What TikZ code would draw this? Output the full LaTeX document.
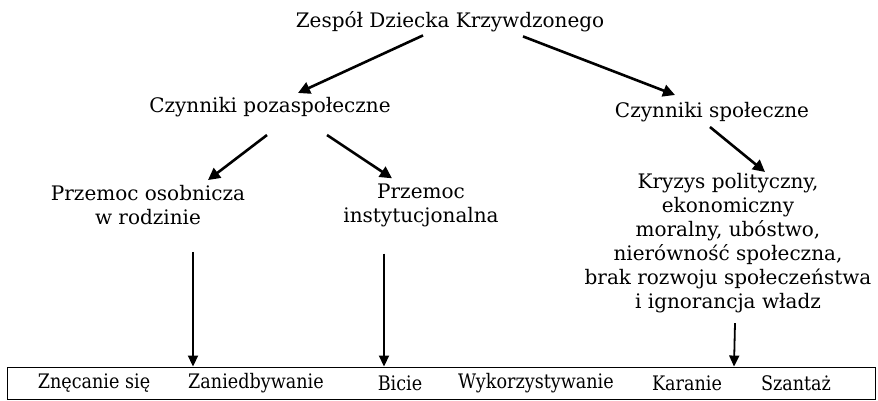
\documentclass[tikz,border=0pt]{standalone}
\usepackage{fontspec}
\setmainfont{DejaVu Serif}
\usetikzlibrary{positioning,arrows.meta}
\tikzset{
  lbl/.style={align=center, inner sep=1pt, font=\fontsize{20}{24}\selectfont, text=black},
  item/.style={inner sep=1pt, font=\fontsize{20}{24}\selectfont, text=black},
  flow/.style={-{Triangle[length=12pt, width=12pt]}, line width=2.6pt, draw=black},
  flowv/.style={-{Triangle[length=11pt, width=10pt]}, line width=1.8pt, draw=black},
}
\newcommand{\narrow}[1]{\scalebox{0.88}[1]{#1}}
\begin{document}
\begin{tikzpicture}[x=1pt, y=-1pt]
  \useasboundingbox (0,0) rectangle (878,400);
  \node[lbl] (zdk) at (450,22) {Zespół Dziecka Krzywdzonego};
  \node[lbl] (poz) at (270,107) {Czynniki pozaspołeczne};
  \node[lbl] (spo) at (712,112) {Czynniki społeczne};
  \node[lbl] (oso) at (148,205) {Przemoc osobnicza\\w rodzinie};
  \node[lbl] (ins) at (421,205) {Przemoc\\instytucjonalna};
  \node[lbl] (kry) at (728,243) {Kryzys polityczny,\\ekonomiczny\\moralny, ubóstwo,\\nierówność społeczna,\\brak rozwoju społeczeństwa\\i ignorancja władz};
  % ramka z formami
  \node[draw=black, line width=0.9pt, minimum width=868pt, minimum height=32pt,
    inner sep=0pt] (box) at (441,383) {};
  \node[item] (f1) at (94,383) {\narrow{Znęcanie się}};
  \node[item] (f2) at (256,383) {\narrow{Zaniedbywanie}};
  \node[item] (f3) at (400,383) {\narrow{Bicie}};
  \node[item] (f4) at (536,383) {\narrow{Wykorzystywanie}};
  \node[item] (f5) at (687,383) {\narrow{Karanie}};
  \node[item] (f6) at (796,383) {\narrow{Szantaż}};
  \draw[flow] ([xshift=-27pt,yshift=-2pt]zdk.south) -- ([xshift=28pt,yshift=3pt]poz.north);
  \draw[flow] ([xshift=73pt,yshift=-3pt]zdk.south) -- ([xshift=-37pt,yshift=6pt]spo.north);
  \draw[flow] ([xshift=-3pt,yshift=-17pt]poz.south) -- ([xshift=60pt,yshift=4pt]oso.north);
  \draw[flow] ([xshift=57pt,yshift=-17pt]poz.south) -- ([xshift=-29pt,yshift=4pt]ins.north);
  \draw[flow] ([xshift=-2pt,yshift=-4pt]spo.south) -- ([xshift=37pt]kry.north);
  \draw[flowv] ([xshift=45pt,yshift=-26pt]oso.south) -- ([xshift=-248pt]box.north);
  \draw[flowv] ([xshift=-37pt,yshift=-26pt]ins.south) -- ([xshift=-57pt]box.north);
  \draw[flowv] ([xshift=7pt,yshift=-9pt]kry.south) -- ([xshift=293pt]box.north);
\end{tikzpicture}
\end{document}
